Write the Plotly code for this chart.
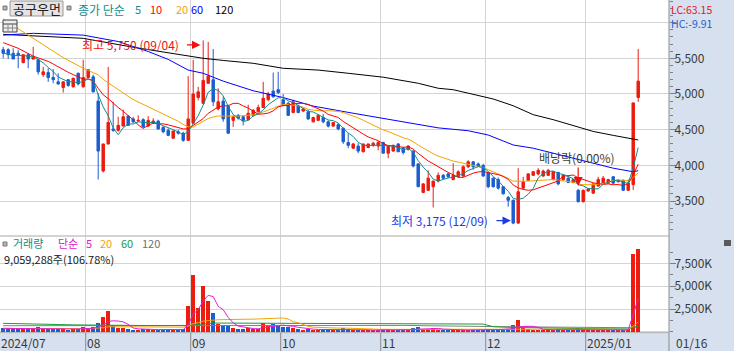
import plotly.graph_objects as go
import pandas as pd

W, H = 734, 351
FONT = "Noto Sans CJK KR"

# ---------------- data ----------------
holidays = ["2024-08-15", "2024-09-16", "2024-09-17", "2024-09-18", "2024-10-01",
            "2024-10-03", "2024-10-09", "2024-12-25", "2024-12-31", "2025-01-01"]
dates = [d for d in pd.bdate_range("2024-07-09", "2025-01-16")
         if d not in pd.to_datetime(holidays)]

opens = [5620, 5620, 5570, 5570, 5440, 5550, 5490, 5480, 5270, 5300, 5230, 5170, 5090, 5200, 5100, 5290, 5100,
         5230, 5240, 4900, 3920, 4300, 4510, 4490, 4550, 4690, 4650, 4620, 4640, 4550, 4590, 4620, 4530, 4490, 4380, 4470, 4450, 4350,
         4590, 4950, 4870, 5150, 5200, 4790, 4900, 4830, 4630, 4700, 4680, 4640, 4700, 4750, 4810, 4920, 5040, 5060,
         4920, 4870, 4740, 4830, 4760, 4750, 4610, 4630, 4670, 4610, 4550, 4570, 4520, 4320, 4240, 4270, 4190, 4250, 4280, 4270,
         4320, 4170, 4200, 4300, 4240, 4220, 4200, 4020, 3620, 3650, 3700, 3780, 3860, 3880, 3800, 3840, 3850, 3980, 4050, 4020, 4000,
         3900, 3820, 3800, 3700, 3550, 3510, 3190, 3680, 3790, 3860, 3880, 3850, 3860, 3800, 3900, 3800, 3820, 3760, 3650, 3490,
         3640, 3610, 3710, 3750, 3750, 3840, 3770, 3790, 3650, 3730, 4950]
highs = [5660, 5640, 5640, 5620, 5560, 5570, 5660, 5490, 5380, 5360, 5350, 5290, 5180, 5210, 5230, 5300, 5480,
         5350, 5270, 5010, 4300, 5380, 4890, 4680, 4780, 4700, 4680, 4700, 4660, 4690, 4660, 4640, 4550, 4520, 4490, 4500, 4470, 5250,
         5480, 5100, 5750, 5730, 5630, 5080, 4960, 4850, 4700, 4720, 4700, 4850, 4790, 4850, 5170, 5030, 5300, 5310,
         5000, 4890, 4920, 4850, 4800, 4780, 4680, 4720, 4720, 4630, 4600, 4590, 4530, 4450, 4310, 4310, 4300, 4300, 4330, 4340,
         4330, 4270, 4290, 4310, 4260, 4280, 4210, 4030, 3750, 3930, 3780, 3900, 3880, 3900, 4030, 3930, 4000, 4070, 4060, 4040, 4020,
         3910, 3830, 3830, 3710, 3570, 3520, 3960, 3840, 3890, 3920, 3960, 3940, 3950, 3920, 3910, 3880, 3850, 3810, 3670, 3660,
         3680, 3740, 3840, 3850, 3810, 3850, 3800, 3800, 3800, 4875, 5630]
lows = [5500, 5490, 5490, 5360, 5430, 5360, 5480, 5270, 5240, 5170, 5150, 5130, 5020, 5100, 5090, 5120, 5090,
        5220, 5020, 3800, 3900, 4290, 4470, 4470, 4550, 4560, 4590, 4610, 4520, 4540, 4580, 4500, 4450, 4410, 4370, 4430, 4330, 4340,
        4580, 4910, 4860, 5140, 4830, 4770, 4610, 4440, 4540, 4640, 4560, 4630, 4680, 4740, 4800, 4900, 4950, 5000,
        4830, 4700, 4730, 4730, 4750, 4640, 4600, 4620, 4590, 4530, 4540, 4490, 4300, 4240, 4230, 4170, 4180, 4240, 4260, 4210,
        4170, 4100, 4190, 4190, 4150, 4210, 3970, 3700, 3610, 3640, 3410, 3760, 3800, 3820, 3790, 3830, 3840, 3960, 3940, 3980, 3840,
        3680, 3690, 3660, 3590, 3420, 3175, 3180, 3670, 3780, 3850, 3860, 3840, 3850, 3790, 3720, 3780, 3750, 3750, 3480, 3480,
        3630, 3600, 3700, 3740, 3740, 3740, 3760, 3640, 3640, 3655, 4890]
closes = [5570, 5550, 5490, 5550, 5550, 5490, 5520, 5310, 5310, 5230, 5200, 5140, 5170, 5120, 5220, 5140, 5230,
          5340, 5030, 4200, 4300, 4600, 4490, 4560, 4680, 4560, 4610, 4630, 4540, 4630, 4620, 4510, 4470, 4420, 4480, 4450, 4350, 4650,
          5000, 5030, 5190, 5250, 4890, 4890, 4650, 4450, 4680, 4660, 4630, 4730, 4770, 4810, 4940, 5000, 4960, 5020,
          4840, 4700, 4890, 4740, 4790, 4650, 4670, 4700, 4610, 4550, 4600, 4510, 4330, 4280, 4300, 4200, 4300, 4300, 4310, 4320,
          4170, 4270, 4280, 4190, 4180, 4270, 3990, 3700, 3740, 3820, 3780, 3860, 3820, 3840, 3860, 3910, 3980, 4050, 3980, 3990, 3850,
          3700, 3700, 3680, 3600, 3510, 3190, 3630, 3770, 3880, 3910, 3930, 3920, 3930, 3910, 3740, 3860, 3760, 3800, 3490, 3650,
          3670, 3740, 3800, 3820, 3800, 3750, 3790, 3650, 3750, 4875, 5180]
volumes = [380000, 300000, 420000, 350000, 330000, 280000, 450000, 520000, 330000, 300000, 280000, 260000, 420000, 240000, 300000, 320000, 480000,
           300000, 520000, 950000, 1600000, 2300000, 650000, 420000, 460000, 300000, 240000, 200000, 260000, 300000, 200000, 240000, 250000, 210000, 300000, 200000, 260000, 2800000,
           6200000, 2600000, 5000000, 3400000, 2100000, 900000, 700000, 800000, 420000, 300000, 300000, 420000, 320000, 300000, 950000, 600000, 900000, 700000,
           500000, 520000, 420000, 300000, 240000, 300000, 200000, 250000, 300000, 200000, 200000, 200000, 420000, 300000, 200000, 250000, 200000, 150000, 150000, 200000,
           350000, 300000, 200000, 200000, 150000, 150000, 420000, 520000, 300000, 350000, 420000, 250000, 150000, 150000, 200000, 150000, 250000, 200000, 200000, 150000, 250000,
           350000, 250000, 200000, 250000, 300000, 700000, 1300000, 420000, 300000, 250000, 200000, 200000, 200000, 250000, 300000, 200000, 150000, 150000, 400000, 300000,
           150000, 250000, 200000, 200000, 150000, 200000, 150000, 250000, 300000, 8484070, 9059288]

ma10_early_idx = [0, 3, 6]
ma10_early_val = [5720, 5640, 5530]
ma20_early_idx = [0, 4, 8, 12, 16]
ma20_early_val = [6050, 5865, 5690, 5510, 5360]
ma60_idx = [0, 6, 16, 23, 29, 33, 37, 40, 44, 50, 56, 62, 70, 76, 83, 87, 93, 97, 102, 106, 110, 114, 118, 122, 126, 127]
ma60_val = [5825, 5850, 5825, 5735, 5595, 5485, 5335, 5290, 5180, 5045, 4950, 4830, 4730, 4660, 4580, 4525, 4485, 4425,
            4285, 4240, 4170, 4100, 4030, 3960, 3910, 3925]
ma120_idx = [0, 16, 26, 40, 44, 50, 56, 63, 69, 76, 83, 87, 90, 94, 98, 102, 106, 110, 114, 118, 122, 126, 127]
ma120_val = [5835, 5780, 5655, 5500, 5470, 5430, 5360, 5335, 5290, 5235, 5150, 5080, 5060, 4990, 4930, 4835, 4710,
             4640, 4560, 4475, 4420, 4360, 4355]
vma60_idx = [0, 14, 30, 37, 42, 60, 80, 96, 98, 102, 116, 125, 126, 127]
vma60_val = [930000, 760000, 680000, 700000, 960000, 930000, 880000, 850000, 560000, 480000, 350000, 310000, 450000, 600000]
vma120_idx = [0, 40, 60, 80, 100, 116, 125, 126, 127]
vma120_val = [670000, 700000, 720000, 700000, 560000, 480000, 450000, 520000, 590000]

price_ticks = [3500, 4000, 4500, 5000, 5500, 6000]
vol_ticks = [2500000, 5000000, 7500000]
div_date = "2024-12-27"
stock_name = "공구우먼"

# ---------------- derived ----------------
n = len(closes)
idx = list(range(n))
cl = pd.Series(closes, dtype=float)
ma5 = cl.rolling(5, min_periods=1).mean()
ma10 = cl.rolling(10).mean()
ma20 = cl.rolling(20).mean()
vs = pd.Series(volumes, dtype=float)
vma5 = vs.rolling(5, min_periods=1).mean()
vma20 = vs.rolling(20, min_periods=1).mean()

RED = "#EC1C10"
BLUE = "#1B5ED0"
TEAL = "#108C8C"
ORANGE = "#F2A400"
MAG = "#E020D0"
GREEN = "#1A9A3A"
GRID = "#D4D4D4"
PANEL = "#D6E0EE"

# pixel geometry
X_LO, X_HI = -0.64, 133.16
PLOT_R = 669 / W
P_TOP, P_BOT = 3500 + 201 * 14.015, 3500 - 34.7 * 14.015
V_TOP, V_BOT = (331.8 - 237) * 109650, (331.8 - 332.7) * 109650

fig = go.Figure()
fig.add_trace(go.Candlestick(
    x=idx, open=opens, high=highs, low=lows, close=closes,
    increasing=dict(line=dict(color=RED, width=1), fillcolor=RED),
    decreasing=dict(line=dict(color=BLUE, width=1), fillcolor=BLUE),
    whiskerwidth=0, hoverinfo="skip", showlegend=False, xaxis="x", yaxis="y"))


def line(x, y, color, xa="x", ya="y"):
    fig.add_trace(go.Scatter(x=list(x), y=list(y), mode="lines", line=dict(color=color, width=1),
                             hoverinfo="skip", showlegend=False, xaxis=xa, yaxis=ya))


line(ma120_idx, ma120_val, "#000000")
line(ma60_idx, ma60_val, "#0000FF")
line(ma20_early_idx + list(range(19, n)), ma20_early_val + list(ma20[19:]), ORANGE)
line(ma10_early_idx + list(range(9, n)), ma10_early_val + list(ma10[9:]), "#FF0000")
line(idx, ma5, TEAL)

vcolors = [RED if c >= o else BLUE for o, c in zip(opens, closes)]
fig.add_trace(go.Bar(x=idx, y=volumes, marker=dict(color=vcolors, line=dict(width=0)), width=0.7,
                     hoverinfo="skip", showlegend=False, xaxis="x2", yaxis="y2"))
line(vma120_idx, vma120_val, "#808080", "x2", "y2")
line(vma60_idx, vma60_val, GREEN, "x2", "y2")
line(idx, vma20, ORANGE, "x2", "y2")
line(idx, vma5, MAG, "x2", "y2")

# month boundaries
month_starts = [i for i in range(1, n) if dates[i].month != dates[i - 1].month]
bounds = [i - 0.5 for i in month_starts]

axis_font = dict(family=FONT, size=12, color="#3A3A3A")
xcommon = dict(range=[X_LO, X_HI], domain=[0, PLOT_R], tickvals=bounds, showticklabels=False,
               showgrid=True, gridcolor=GRID, gridwidth=1, zeroline=False, ticks="", fixedrange=True)

fig.update_layout(
    width=W, height=H, autosize=False, margin=dict(l=0, r=0, t=0, b=0, pad=0),
    paper_bgcolor="white", plot_bgcolor="white", showlegend=False, bargap=0,
    xaxis=dict(anchor="y", rangeslider=dict(visible=False), **xcommon),
    xaxis2=dict(anchor="y2", matches="x", **xcommon),
    yaxis=dict(domain=[1 - 235.7 / H, 1], range=[P_BOT, P_TOP], side="right", anchor="x",
               tickvals=price_ticks, ticktext=[f"{v:,}" if v < 6000 else "" for v in price_ticks],
               showgrid=True, gridcolor=GRID, zeroline=False, showline=False,
               ticks="outside", ticklen=6, tickcolor="#808080", tickfont=axis_font,
               ticklabelstandoff=-4,
               minor=dict(tickmode="array", tickvals=[v for v in range(3100, 6301, 100) if v % 500],
                          ticks="outside", ticklen=3, tickcolor="#808080", showgrid=False),
               fixedrange=True),
    yaxis2=dict(domain=[1 - 332.7 / H, 1 - 237 / H], range=[V_BOT, V_TOP], side="right", anchor="x2",
                tickvals=vol_ticks, ticktext=[f"{v // 1000:,}K" for v in vol_ticks],
                showgrid=True, gridcolor=GRID, zeroline=True, zerolinecolor=GRID, showline=False,
                ticks="outside", ticklen=6, tickcolor="#808080", tickfont=axis_font,
                ticklabelstandoff=-4,
                minor=dict(tickmode="array", tickvals=[0, 1250000, 3750000, 6250000, 8750000],
                           ticks="outside", ticklen=3, tickcolor="#808080", showgrid=False),
                fixedrange=True),
)

shapes = []


def prect(x0, y0, x1, y1, fill, lc=None, layer="above", lw=1):
    shapes.append(dict(type="rect", xref="paper", yref="paper", x0=x0 / W, x1=x1 / W,
                       y0=1 - y1 / H, y1=1 - y0 / H, fillcolor=fill, layer=layer,
                       line=dict(color=lc or fill, width=lw if lc else 0)))


def pline(x0, y0, x1, y1, color, w=1):
    shapes.append(dict(type="line", xref="paper", yref="paper", x0=x0 / W, x1=x1 / W,
                       y0=1 - y0 / H, y1=1 - y1 / H, line=dict(color=color, width=w)))


# panels
prect(669, 0, W, H, PANEL, layer="below")
prect(0, 332.7, W, H, PANEL, layer="below")
pline(669, 0, 669, H, "#8C8C8C")
pline(0, 236, 669, 236, "#A8A8A8")
pline(0, 332.7, 669, 332.7, "#B4B4B4")
for b in bounds:
    shapes.append(dict(type="line", xref="x", yref="paper", x0=b, x1=b, y0=0, y1=1 - 332.7 / H,
                       line=dict(color="#8C8C8C", width=1)))
# header widgets
prect(3, 6, 7, 10, "#B4B4B4", "#7A7A7A")
prect(10, 1, 63, 16, "#E4E4E4", "#9A9A9A")
prect(67, 6, 71, 10, "#B4B4B4", "#7A7A7A")
prect(3, 20, 17, 32, "#EDEDED", "#404040")
pline(3, 24, 17, 24, "#404040")
pline(3, 28, 17, 28, "#8A8A8A")
pline(8, 24, 8, 32, "#8A8A8A")
pline(12.5, 24, 12.5, 32, "#8A8A8A")
prect(3, 242, 7, 246, "#B4B4B4", "#7A7A7A")
prect(724, 240, 731, 246, "#5A5A5A")
fig.update_layout(shapes=shapes)


def ptxt(xp, yp, s, color, size=12, xanchor="left", yanchor="middle", **kw):
    fig.add_annotation(x=xp / W, y=1 - yp / H, xref="paper", yref="paper", text=s, showarrow=False,
                       font=dict(family=FONT, size=size, color=color), xanchor=xanchor,
                       yanchor=yanchor, borderpad=0, **kw)


# header legend
ptxt(36.5, 8.5, stock_name, "#202020", 13, "center")
ptxt(77, 9, "종가 단순", TEAL, 12)
ptxt(134, 9, "5", TEAL, 11)
ptxt(149, 9, "10", "#FF0000", 11)
ptxt(175, 9, "20", ORANGE, 11)
ptxt(189.5, 9, "60", "#0000FF", 11)
ptxt(213.5, 9, "120", "#000000", 11)

# LC / HC
imax = max(range(n), key=lambda i: highs[i])
imin = min(range(n), key=lambda i: lows[i])
lc = (closes[-1] / lows[imin] - 1) * 100
hc = (closes[-1] / highs[imax] - 1) * 100
ptxt(669.5, 0.5, f"LC:{lc:.2f}", "#E8141C", 10.5, yanchor="top")
ptxt(669.5, 14.5, f"HC:{hc:.2f}", "#1A5FD0", 10.5, yanchor="top")

# volume legend
ptxt(12, 243, "거래량", TEAL, 11)
ptxt(57, 243, "단순", MAG, 11)
ptxt(85, 243, "5", MAG, 11)
ptxt(99, 243, "20", ORANGE, 11)
ptxt(120, 243, "60", GREEN, 11)
ptxt(141, 243, "120", "#707070", 11)
ptxt(3, 258.5, f"{volumes[-1]:,}주({volumes[-1] / volumes[-2] * 100:.2f}%)", "#202020", 11)

# max / min / dividend markers
fig.add_annotation(x=imax - 4.45, y=highs[imax] - 50, xref="x", yref="y", xanchor="right", yanchor="middle",
                   text=f"최고 {highs[imax]:,} ({dates[imax]:%m/%d})", showarrow=False,
                   font=dict(family=FONT, size=12, color="#F01010"))
fig.add_annotation(x=imax - 0.55, y=highs[imax] - 62, xref="x", yref="y", text="", showarrow=True,
                   ax=-15, ay=0, arrowhead=2, arrowsize=1.3, arrowwidth=1.3, arrowcolor="#F01010")
fig.add_annotation(x=imin - 4.6, y=lows[imin] + 52, xref="x", yref="y", xanchor="right", yanchor="middle",
                   text=f"최저 {lows[imin]:,} ({dates[imin]:%m/%d})", showarrow=False,
                   font=dict(family=FONT, size=12, color="#1A3CE0"))
fig.add_annotation(x=imin - 0.45, y=lows[imin] + 50, xref="x", yref="y", text="", showarrow=True,
                   ax=-16, ay=0, arrowhead=2, arrowsize=1.3, arrowwidth=1.3, arrowcolor="#1A3CE0")
idiv = [i for i, d in enumerate(dates) if d == pd.Timestamp(div_date)][0]
fig.add_annotation(x=idiv - 0.3, y=4103, xref="x", yref="y", xanchor="center", yanchor="middle",
                   text="배당락(0.00%)", showarrow=False, font=dict(family=FONT, size=12, color="#3C3C3C"))
fig.add_annotation(x=idiv, y=highs[idiv] + 40, xref="x", yref="y", text="", showarrow=True,
                   ax=0, ay=-20, arrowhead=2, arrowsize=1.5, arrowwidth=1.2, arrowcolor="#F01010")

# date band labels
fig.add_annotation(x=0, y=1 - 342 / H, xref="paper", yref="paper", text=f"{dates[0]:%Y/%m}",
                   showarrow=False, xanchor="left", yanchor="middle", borderpad=0,
                   font=dict(family=FONT, size=12, color="#3A3A3A"))
for i in month_starts:
    lab = f"{dates[i]:%Y/%m}" if dates[i].month == 1 else f"{dates[i]:%m}"
    fig.add_annotation(x=i - 0.5, y=1 - 342 / H, xref="x", yref="paper", text=lab, showarrow=False,
                       xanchor="left", yanchor="middle", xshift=0, borderpad=0,
                       font=dict(family=FONT, size=12, color="#3A3A3A"))
ptxt(675, 342, f"{dates[-1]:%m/%d}", "#3A3A3A")

fig.write_html("out.html")
